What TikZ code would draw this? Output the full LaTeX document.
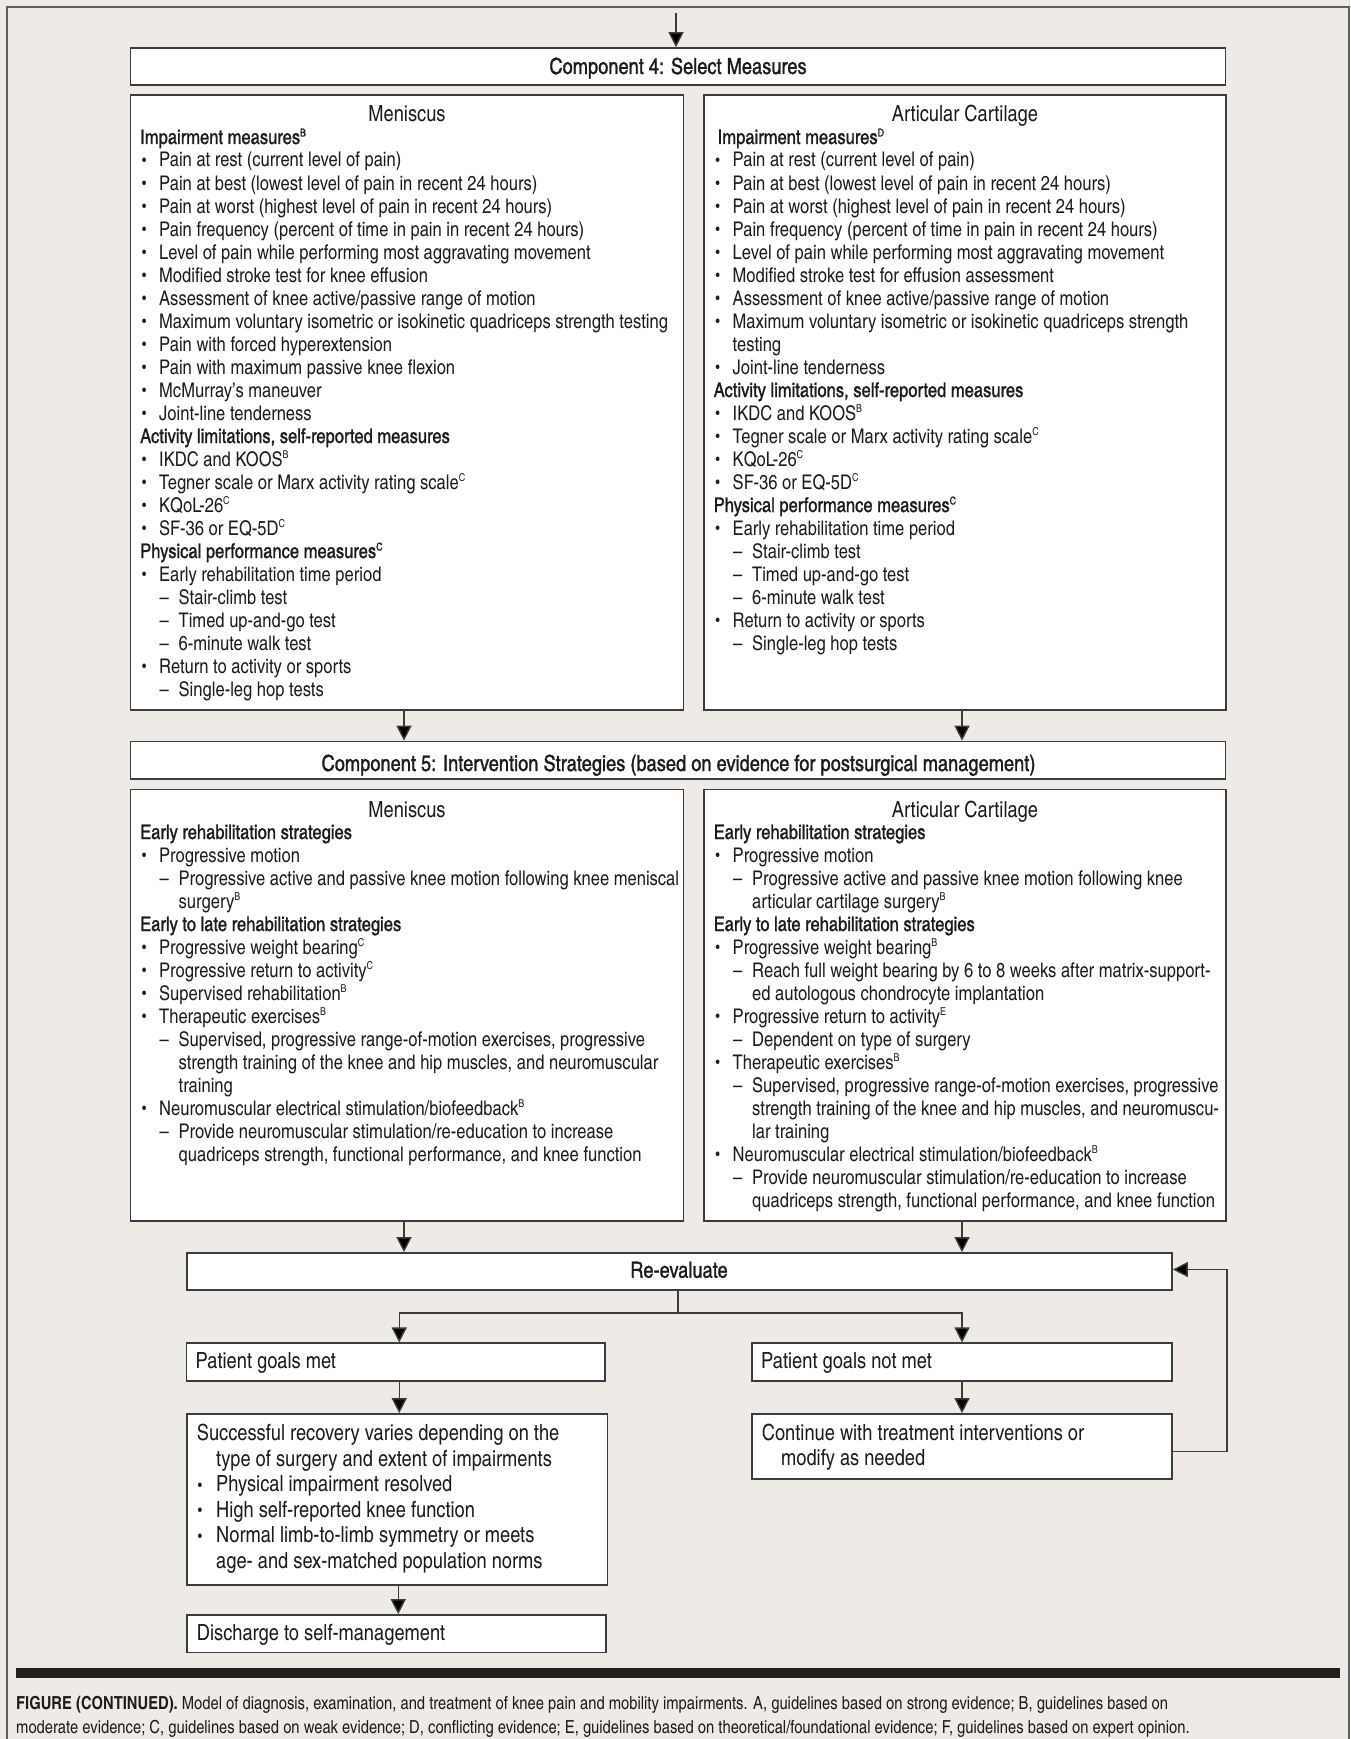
\documentclass[tikz,border=0pt]{standalone}
\usepackage{fontspec}
\setmainfont{texgyreheroscn}[Extension=.otf,UprightFont=*-regular,BoldFont=*-bold,ItalicFont=*-italic,BoldItalicFont=*-bolditalic,Scale=1.035]
\newfontfamily\medf{texgyreheroscn-regular.otf}[Scale=1.035,FakeBold=1.2]
\usetikzlibrary{arrows.meta}
\definecolor{bgc}{RGB}{238,234,230}
\definecolor{framec}{RGB}{95,95,95}
\definecolor{boxc}{RGB}{60,60,60}
\definecolor{barc}{RGB}{35,31,32}
\definecolor{txc}{RGB}{30,27,28}
\newcommand\bodyf{\fontsize{19.5pt}{23pt}\selectfont}
\newcommand\bigf{\fontsize{21.5pt}{25pt}\selectfont}
\newcommand\capf{\fontsize{17.4pt}{24pt}\selectfont}
\newcommand\hd[1]{{\medf #1}}
\newcommand\ev[1]{\raisebox{7.5pt}{\fontsize{10.5pt}{10.5pt}\selectfont #1}}
\newcommand\bdot{\raisebox{1.5pt}{\fontsize{14pt}{14pt}\selectfont\textbullet}}
\newcommand\bu[1]{\makebox[19pt][l]{\hspace{2pt}\bdot}#1}
\newcommand\da[1]{\hspace*{19.5pt}\makebox[19pt][l]{–}#1}
\newcommand\co[1]{\hspace*{38.5pt}#1}
\newcommand\cb[1]{\hspace*{19pt}#1}
\newcommand\bx[6][]{\node[box,#1,minimum width={(#5)-(#3)},minimum height={(#6)-(#4)}] (#2) at ({((#3)+(#5))/2},{((#4)+(#6))/2}) {};}
\newcommand\txtlines[5]{\foreach \t [count=\i] in {#5} {\node[txt,font=#4] (#1-\i) at (#2,{#3+23*(\i-1)}) {\t};}}
\begin{document}
\begin{tikzpicture}[x=1pt,y=-1pt,
  box/.style={draw=boxc,line width=1.7pt,fill=white,inner sep=0pt},
  txt/.style={anchor=base west,inner sep=0pt,text=txc},
  ctxt/.style={anchor=base,inner sep=0pt,text=txc},
  ln/.style={draw=boxc,line width=1.4pt},
  arr/.style={draw=boxc,line width=1.4pt,-{Triangle[length=15pt,width=15pt,fill=black]}}]
\useasboundingbox (0,0) rectangle (1350,1739);
\fill[bgc] (0,0) rectangle (1350,1739);
\draw[framec,line width=2.4pt] (7,1739) -- (7,7) -- (1349,7) -- (1349,1739);
% boxes
\bx{comp4}{130.5}{48}{1225.5}{85}
\bx{mtop}{130.5}{95}{683.5}{710}
\bx{atop}{704}{95}{1226}{710}
\bx{comp5}{130.5}{741.5}{1225.5}{778.7}
\bx{mbot}{130.5}{789.5}{683.5}{1221}
\bx{abot}{704}{789.5}{1226}{1221}
\bx{reval}{187}{1253}{1172}{1290}
\bx{met}{186.5}{1343.3}{605}{1381}
\bx{notmet}{752}{1343.3}{1172}{1381}
\bx{succ}{187}{1414}{607.5}{1585}
\bx{cont}{752}{1414}{1172}{1479}
\bx{disch}{187}{1615}{606}{1652.5}
% headers
\node[ctxt,font=\bigf\medf] (comp4t) at (678,74) {Component 4: Select Measures};
\node[ctxt,font=\bigf\medf] (comp5t) at (678.5,771) {Component 5: Intervention Strategies (based on evidence for postsurgical management)};
\node[ctxt,font=\bigf] (mtopt) at (407,122) {Meniscus};
\node[ctxt,font=\bigf] (atopt) at (965,122) {Articular Cartilage};
\node[ctxt,font=\bigf] (mbott) at (407,817) {Meniscus};
\node[ctxt,font=\bigf] (abott) at (965,817) {Articular Cartilage};
% top meniscus
\txtlines{ml}{140}{144}{\bodyf}{
\hd{Impairment measures\ev{B}},
\bu{Pain at rest (current level of pain)},
\bu{Pain at best (lowest level of pain in recent 24 hours)},
\bu{Pain at worst (highest level of pain in recent 24 hours)},
\bu{Pain frequency (percent of time in pain in recent 24 hours)},
\bu{Level of pain while performing most aggravating movement},
\bu{Modified stroke test for knee effusion},
\bu{Assessment of knee active/passive range of motion},
\bu{Maximum voluntary isometric or isokinetic quadriceps strength testing},
\bu{Pain with forced hyperextension},
\bu{Pain with maximum passive knee flexion},
\bu{McMurray’s maneuver},
\bu{Joint-line tenderness},
\hd{Activity limitations, self-reported measures},
\bu{IKDC and KOOS\ev{B}},
\bu{Tegner scale or Marx activity rating scale\ev{C}},
\bu{KQoL-26\ev{C}},
\bu{SF-36 or EQ-5D\ev{C}},
\hd{Physical performance measures\ev{C}},
\bu{Early rehabilitation time period},
\da{Stair-climb test},
\da{Timed up-and-go test},
\da{6-minute walk test},
\bu{Return to activity or sports},
\da{Single-leg hop tests}}
% top articular
\txtlines{al}{713.5}{144}{\bodyf}{
\hspace*{4pt}\hd{Impairment measures\ev{D}},
\bu{Pain at rest (current level of pain)},
\bu{Pain at best (lowest level of pain in recent 24 hours)},
\bu{Pain at worst (highest level of pain in recent 24 hours)},
\bu{Pain frequency (percent of time in pain in recent 24 hours)},
\bu{Level of pain while performing most aggravating movement},
\bu{Modified stroke test for effusion assessment},
\bu{Assessment of knee active/passive range of motion},
\bu{Maximum voluntary isometric or isokinetic quadriceps strength},
\cb{testing},
\bu{Joint-line tenderness},
\hd{Activity limitations, self-reported measures},
\bu{IKDC and KOOS\ev{B}},
\bu{Tegner scale or Marx activity rating scale\ev{C}},
\bu{KQoL-26\ev{C}},
\bu{SF-36 or EQ-5D\ev{C}},
\hd{Physical performance measures\ev{C}},
\bu{Early rehabilitation time period},
\da{Stair-climb test},
\da{Timed up-and-go test},
\da{6-minute walk test},
\bu{Return to activity or sports},
\da{Single-leg hop tests}}
% lower meniscus
\txtlines{mb}{140}{839}{\bodyf}{
\hd{Early rehabilitation strategies},
\bu{Progressive motion},
\da{Progressive active and passive knee motion following knee meniscal},
\co{surgery\ev{B}},
\hd{Early to late rehabilitation strategies},
\bu{Progressive weight bearing\ev{C}},
\bu{Progressive return to activity\ev{C}},
\bu{Supervised rehabilitation\ev{B}},
\bu{Therapeutic exercises\ev{B}},
\da{Supervised, progressive range-of-motion exercises, progressive},
\co{strength training of the knee and hip muscles, and neuromuscular},
\co{training},
\bu{Neuromuscular electrical stimulation/biofeedback\ev{B}},
\da{Provide neuromuscular stimulation/re-education to increase},
\co{quadriceps strength, functional performance, and knee function}}
% lower articular
\txtlines{ab}{713.5}{839}{\bodyf}{
\hd{Early rehabilitation strategies},
\bu{Progressive motion},
\da{Progressive active and passive knee motion following knee},
\co{articular cartilage surgery\ev{B}},
\hd{Early to late rehabilitation strategies},
\bu{Progressive weight bearing\ev{B}},
\da{Reach full weight bearing by 6 to 8 weeks after matrix-support-},
\co{ed autologous chondrocyte implantation},
\bu{Progressive return to activity\ev{E}},
\da{Dependent on type of surgery},
\bu{Therapeutic exercises\ev{B}},
\da{Supervised, progressive range-of-motion exercises, progressive},
\co{strength training of the knee and hip muscles, and neuromuscu-},
\co{lar training},
\bu{Neuromuscular electrical stimulation/biofeedback\ev{B}},
\da{Provide neuromuscular stimulation/re-education to increase},
\co{quadriceps strength, functional performance, and knee function}}
% bottom section
\node[ctxt,font=\bigf\medf] (revalt) at (679,1277.7) {Re-evaluate};
\node[txt,font=\bigf] (mett) at (195.5,1368) {Patient goals met};
\node[txt,font=\bigf] (notmett) at (761,1368) {Patient goals not met};
\node[txt,font=\bigf] (s1) at (196.7,1440.7) {Successful recovery varies depending on the};
\node[txt,font=\bigf] (s2) at (196.7,1466.2) {\hspace*{19.3pt}type of surgery and extent of impairments};
\node[txt,font=\bigf] (s3) at (196.7,1491.7) {\makebox[19.3pt][l]{\hspace{1pt}\bdot}Physical impairment resolved};
\node[txt,font=\bigf] (s4) at (196.7,1517.2) {\makebox[19.3pt][l]{\hspace{1pt}\bdot}High self-reported knee function};
\node[txt,font=\bigf] (s5) at (196.7,1542.7) {\makebox[19.3pt][l]{\hspace{1pt}\bdot}Normal limb-to-limb symmetry or meets};
\node[txt,font=\bigf] (s6) at (196.7,1568.2) {\hspace*{19.3pt}age- and sex-matched population norms};
\node[txt,font=\bigf] (c1) at (761.7,1440) {Continue with treatment interventions or};
\node[txt,font=\bigf] (c2) at (761.7,1465.7) {\hspace*{19.3pt}modify as needed};
\node[txt,font=\bigf] (discht) at (196.7,1640.7) {Discharge to self-management};
% connectors
\coordinate (topin) at (676,13);
\draw[arr] (topin) -- (topin |- comp4.north);
\draw[arr] ([xshift=-3pt]mtop.south) -- ([xshift=-3pt]mtop.south |- comp5.north);
\draw[arr] ([xshift=-3pt]atop.south) -- ([xshift=-3pt]atop.south |- comp5.north);
\draw[arr] ([xshift=-3pt]mbot.south) -- ([xshift=-3pt]mbot.south |- reval.north);
\draw[arr] ([xshift=-3pt]abot.south) -- ([xshift=-3pt]abot.south |- reval.north);
\draw[ln] ([xshift=-1.5pt]reval.south) -- ++(0,22) coordinate (split);
\draw[arr] (split) -| ([xshift=3.5pt]met.north);
\draw[arr] (split) -| (notmet.north);
\draw[arr] ([xshift=3.5pt]met.south) -- ([xshift=3.5pt]met.south |- succ.north);
\draw[arr] (notmet.south) -- (cont.north);
\draw[arr] ([xshift=1pt]succ.south) -- ([xshift=1pt]succ.south |- disch.north);
\draw[arr] ([yshift=-5pt]cont.east) -- ++(54,0) |- ([yshift=2pt]reval.east);
% caption
\fill[barc] (16,1668) rectangle (1340,1678);
\node[txt,font=\capf] (cap1) at (16,1709) {\textbf{FIGURE (CONTINUED).} Model of diagnosis, examination, and treatment of knee pain and mobility impairments. A, guidelines based on strong evidence; B, guidelines based on};
\node[txt,font=\capf] (cap2) at (16,1733) {moderate evidence; C, guidelines based on weak evidence; D, conflicting evidence; E, guidelines based on theoretical/foundational evidence; F, guidelines based on expert opinion.};
\end{tikzpicture}
\end{document}
